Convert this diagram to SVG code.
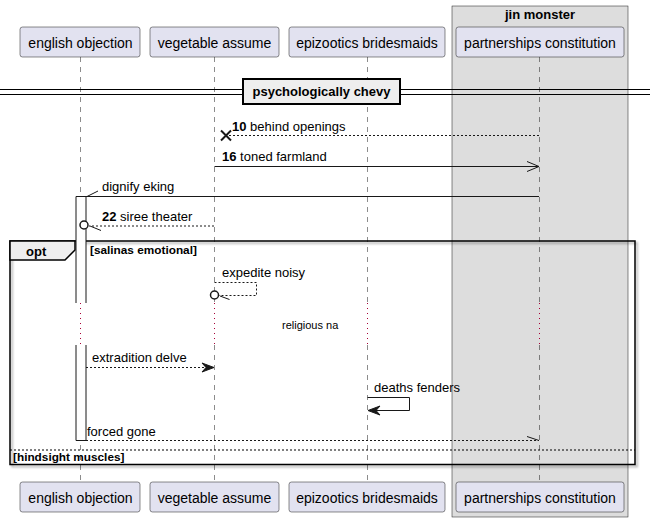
<svg xmlns="http://www.w3.org/2000/svg" width="650" height="522" viewBox="0 0 650 522">
  <style>
    text { font-family: "Liberation Sans", Arial, sans-serif; fill: #000; }
    .pt { font-size: 14px; text-anchor: middle; }
    .msg { font-size: 13px; }
    .num { font-weight: bold; }
    .bold { font-weight: bold; }
    .guard { font-weight: bold; font-size: 11.8px; }
    .part { fill: #E2E2F0; stroke: #181818; stroke-width: 0.5; }
    .life { stroke: #181818; stroke-width: 0.5; stroke-dasharray: 5,5; fill: none; }
    .delay { stroke: #A80036; stroke-width: 1; stroke-dasharray: 1,4; fill: none; }
    .solid { stroke: #181818; stroke-width: 1; fill: none; }
    .dash { stroke: #181818; stroke-width: 1; stroke-dasharray: 2,2; fill: none; }
    .head { fill: #181818; stroke: #181818; stroke-width: 1; }
  </style>
  <defs>
    <filter id="shadow" x="-5%" y="-5%" width="110%" height="110%">
      <feGaussianBlur in="SourceAlpha" stdDeviation="1"/>
      <feOffset dx="2" dy="2" result="b"/>
      <feFlood flood-color="#000" flood-opacity="0.35"/>
      <feComposite in2="b" operator="in"/>
      <feMerge><feMergeNode/><feMergeNode in="SourceGraphic"/></feMerge>
    </filter>
  </defs>
  <rect width="650" height="522" fill="#FFFFFF"/>

  <!-- box grouping -->
  <g id="box-jin-monster">
    <rect x="452" y="6" width="176" height="511" fill="#DDDDDD" stroke="#181818" stroke-width="0.5"/>
    <text x="540" y="19" class="bold" font-size="13" text-anchor="middle">jin monster</text>
  </g>

  <!-- lifelines -->
  <g id="lifelines">
    <path class="life" d="M80.5,57 V303 M80.5,345 V482"/>
    <path class="life" d="M214.5,57 V303 M214.5,345 V482"/>
    <path class="life" d="M367.5,57 V303 M367.5,345 V482"/>
    <path class="life" d="M539.5,57 V303 M539.5,345 V482"/>
    <path class="delay" d="M80.5,303 V345 M214.5,303 V345 M367.5,303 V345 M539.5,303 V345"/>
  </g>

  <!-- divider -->
  <g id="divider">
    <path d="M0,89.5 H650 M0,94.5 H650" stroke="#000" stroke-width="1" fill="none"/>
    <rect x="243" y="79" width="157" height="25" fill="#EEEEEE" stroke="#000" stroke-width="2"/>
    <text x="321.5" y="96" class="bold" font-size="13" text-anchor="middle">psychologically chevy</text>
  </g>

  <!-- opt fragment -->
  <g id="frame-opt">
    <rect x="10" y="241" width="625" height="223.5" fill="none" stroke="#000" stroke-width="1.5" filter="url(#shadow)"/>
    <path d="M10,241 H75 V250 L65,260 H10 Z" fill="#EEEEEE" stroke="#000" stroke-width="1.5"/>
    <text x="26" y="256" class="bold" font-size="13">opt</text>
    <text x="90" y="254" class="guard">[salinas emotional]</text>
    <path d="M10,450 H635" stroke="#000" stroke-width="1" stroke-dasharray="2,2" fill="none"/>
    <text x="13" y="461" class="guard">[hindsight muscles]</text>
  </g>

  <!-- activation -->
  <g id="activation-english-objection">
    <path d="M76,303 V196.5 H86 V303" fill="#FFFFFF" stroke="#181818" stroke-width="1"/>
    <path d="M76,345 V440.5 H86 V345" fill="#FFFFFF" stroke="#181818" stroke-width="1"/>
  </g>

  <!-- messages -->
  <g id="connectors">
    <!-- 10 behind openings -->
    <path class="dash" d="M539,135.5 H223"/>
    <path d="M221,130.5 L231,140.5 M221,140.5 L231,130.5" stroke="#181818" stroke-width="2"/>
    <text x="232" y="131" class="msg"><tspan class="num">10</tspan> behind openings</text>

    <!-- 16 toned farmland -->
    <path class="solid" d="M214.5,166.5 H539"/>
    <path class="solid" d="M527,161.5 L539,166.5 L527,171.5"/>
    <text x="222" y="161" class="msg"><tspan class="num">16</tspan> toned farmland</text>

    <!-- dignify eking -->
    <path class="solid" d="M86,196.5 H539"/>
    <path class="solid" d="M87,196.5 L98,191"/>
    <text x="102" y="191" class="msg">dignify eking</text>

    <!-- 22 siree theater -->
    <path class="dash" d="M214,226 H89"/>
    <circle cx="84" cy="225" r="4" fill="#FFFFFF" stroke="#181818" stroke-width="1.5"/>
    <path class="solid" d="M90,226 L101,230.5"/>
    <text x="102" y="221" class="msg"><tspan class="num">22</tspan> siree theater</text>

    <!-- expedite noisy -->
    <path class="dash" d="M214.5,282.5 H256.5 V295.5 H219"/>
    <circle cx="214.5" cy="295" r="4" fill="#FFFFFF" stroke="#181818" stroke-width="1.5"/>
    <path class="solid" d="M220,296 L229.5,299.5"/>
    <text x="222" y="277" class="msg">expedite noisy</text>

    <!-- delay label -->
    <text x="282" y="329" font-size="11">religious na</text>

    <!-- extradition delve -->
    <path class="dash" d="M86,367.5 H210"/>
    <path class="head" d="M202,363 L214,367.5 L202,372 L206,367.5 Z"/>
    <text x="92" y="362" class="msg">extradition delve</text>

    <!-- deaths fenders -->
    <path class="solid" d="M367.5,397.5 H409.5 V410.5 H372"/>
    <path class="head" d="M380,406 L368,410.5 L380,415 L376,410.5 Z"/>
    <text x="374" y="392" class="msg">deaths fenders</text>

    <!-- forced gone -->
    <path class="dash" d="M86,440.5 H539"/>
    <path class="solid" d="M527,436.5 L539,440.5"/>
    <text x="87" y="436" class="msg">forced gone</text>
  </g>

  <!-- participants (head) -->
  <g id="p-english-objection-top"><rect class="part" x="20" y="27" width="120" height="30" rx="2.5"/><text class="pt" x="80.5" y="48">english objection</text></g>
  <g id="p-vegetable-assume-top"><rect class="part" x="150" y="27" width="129" height="30" rx="2.5"/><text class="pt" x="214.5" y="48">vegetable assume</text></g>
  <g id="p-epizootics-bridesmaids-top"><rect class="part" x="289" y="27" width="156" height="30" rx="2.5"/><text class="pt" x="367" y="48">epizootics bridesmaids</text></g>
  <g id="p-partnerships-constitution-top"><rect class="part" x="456" y="27" width="168" height="30" rx="2.5"/><text class="pt" x="540" y="48">partnerships constitution</text></g>

  <!-- participants (foot) -->
  <g id="p-english-objection-bottom"><rect class="part" x="20" y="482" width="120" height="30" rx="2.5"/><text class="pt" x="80.5" y="503">english objection</text></g>
  <g id="p-vegetable-assume-bottom"><rect class="part" x="150" y="482" width="129" height="30" rx="2.5"/><text class="pt" x="214.5" y="503">vegetable assume</text></g>
  <g id="p-epizootics-bridesmaids-bottom"><rect class="part" x="289" y="482" width="156" height="30" rx="2.5"/><text class="pt" x="367" y="503">epizootics bridesmaids</text></g>
  <g id="p-partnerships-constitution-bottom"><rect class="part" x="456" y="482" width="168" height="30" rx="2.5"/><text class="pt" x="540" y="503">partnerships constitution</text></g>
</svg>
